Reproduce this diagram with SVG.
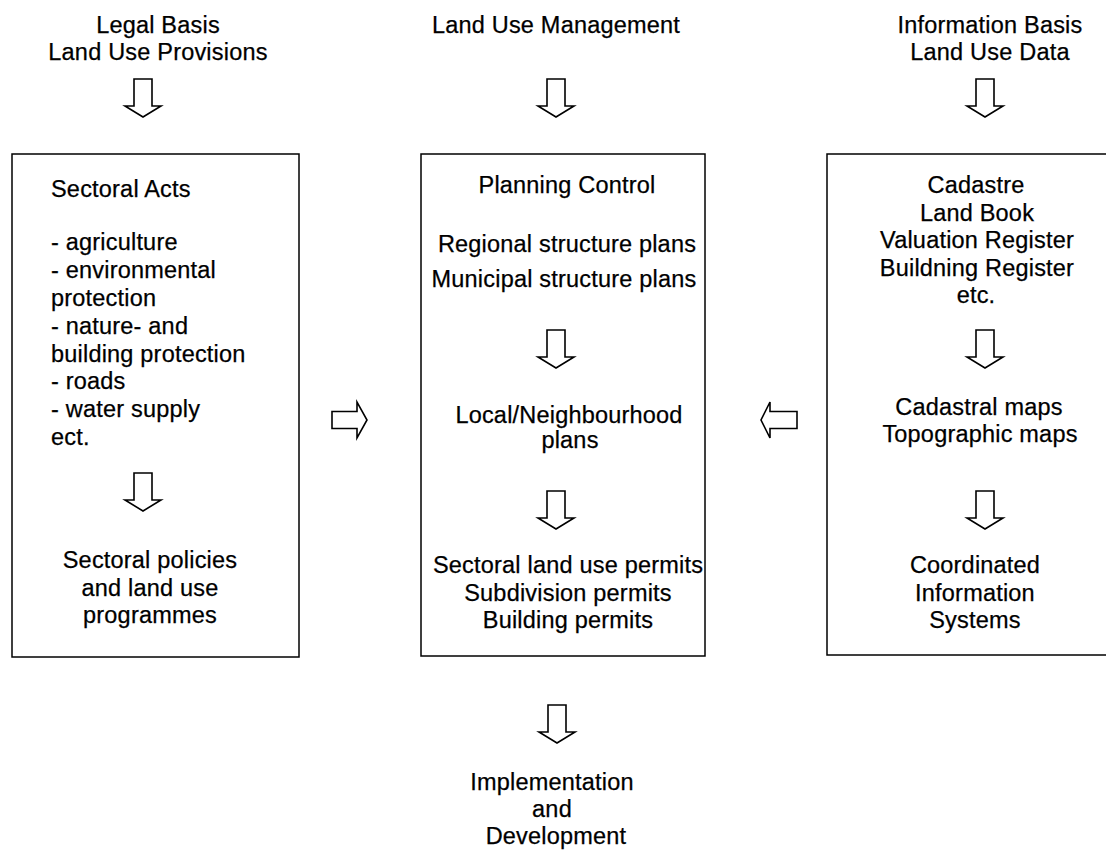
<svg xmlns="http://www.w3.org/2000/svg" width="1106" height="851" viewBox="0 0 1106 851">
<style>
text{font-family:"Liberation Sans",Arial,sans-serif;font-size:23.5px;letter-spacing:0.2px;fill:#000;stroke:#000;stroke-width:0.25}
.c{text-anchor:middle}
.box{fill:#fff;stroke:#000;stroke-width:1.5}
.arr{fill:#fff;stroke:#000;stroke-width:1.6;stroke-linejoin:miter}
</style>
<defs>
<path id="down" class="arr" d="M-9,0 H9 V27 H18 L0,38 L-18,27 H-9 Z"/>
<path id="right" class="arr" d="M0,-8.5 H25 V-18 L35,0 L25,18 V8.5 H0 Z"/>
<path id="left" class="arr" d="M0,-8.5 H-27 V-18 L-36,0 L-27,18 V8.5 H0 Z"/>
</defs>
<rect width="1106" height="851" fill="#fff"/>

<g id="head-legal">
<text class="c" x="158" y="33">Legal Basis</text>
<text class="c" x="158" y="60">Land Use Provisions</text>
</g>
<g id="head-management">
<text class="c" x="556" y="33">Land Use Management</text>
</g>
<g id="head-information">
<text class="c" x="990" y="33">Information Basis</text>
<text class="c" x="990" y="60">Land Use Data</text>
</g>

<g id="box-legal">
<rect class="box" x="12" y="154" width="287" height="503"/>
<text x="51" y="197">Sectoral Acts</text>
<text x="51" y="250">- agriculture</text>
<text x="51" y="278">- environmental</text>
<text x="51" y="306">protection</text>
<text x="51" y="334">- nature- and</text>
<text x="51" y="362">building protection</text>
<text x="51" y="389">- roads</text>
<text x="51" y="417">- water supply</text>
<text x="51" y="445">ect.</text>
<text class="c" x="150" y="568">Sectoral policies</text>
<text class="c" x="150" y="596">and land use</text>
<text class="c" x="150" y="623">programmes</text>
</g>

<g id="box-management">
<rect class="box" x="421" y="154" width="284" height="502"/>
<text class="c" x="567" y="193">Planning Control</text>
<text class="c" x="567" y="252">Regional structure plans</text>
<text class="c" x="564" y="287">Municipal structure plans</text>
<text class="c" x="569" y="423">Local/Neighbourhood</text>
<text class="c" x="570" y="448">plans</text>
<text class="c" x="568" y="573">Sectoral land use permits</text>
<text class="c" x="568" y="601">Subdivision permits</text>
<text class="c" x="568" y="628">Building permits</text>
</g>

<g id="box-information">
<rect class="box" x="827" y="154" width="290" height="501"/>
<text class="c" x="976" y="193">Cadastre</text>
<text class="c" x="977" y="221">Land Book</text>
<text class="c" x="977" y="248">Valuation Register</text>
<text class="c" x="977" y="276">Buildning Register</text>
<text class="c" x="976" y="303">etc.</text>
<text class="c" x="979" y="415">Cadastral maps</text>
<text class="c" x="980" y="442">Topographic maps</text>
<text class="c" x="975" y="573">Coordinated</text>
<text class="c" x="975" y="601">Information</text>
<text class="c" x="975" y="628">Systems</text>
</g>

<g id="result">
<text class="c" x="552" y="790">Implementation</text>
<text class="c" x="552" y="817">and</text>
<text class="c" x="556" y="844">Development</text>
</g>

<g id="connectors">
<use href="#down" x="143" y="79"/>
<use href="#down" x="556" y="79"/>
<use href="#down" x="985" y="79"/>
<use href="#down" x="143" y="473"/>
<use href="#down" x="556" y="330"/>
<use href="#down" x="556" y="491"/>
<use href="#down" x="985" y="330"/>
<use href="#down" x="985" y="491"/>
<use href="#down" x="557" y="705"/>
<use href="#right" x="332" y="420"/>
<use href="#left" x="797" y="420"/>
</g>
</svg>
